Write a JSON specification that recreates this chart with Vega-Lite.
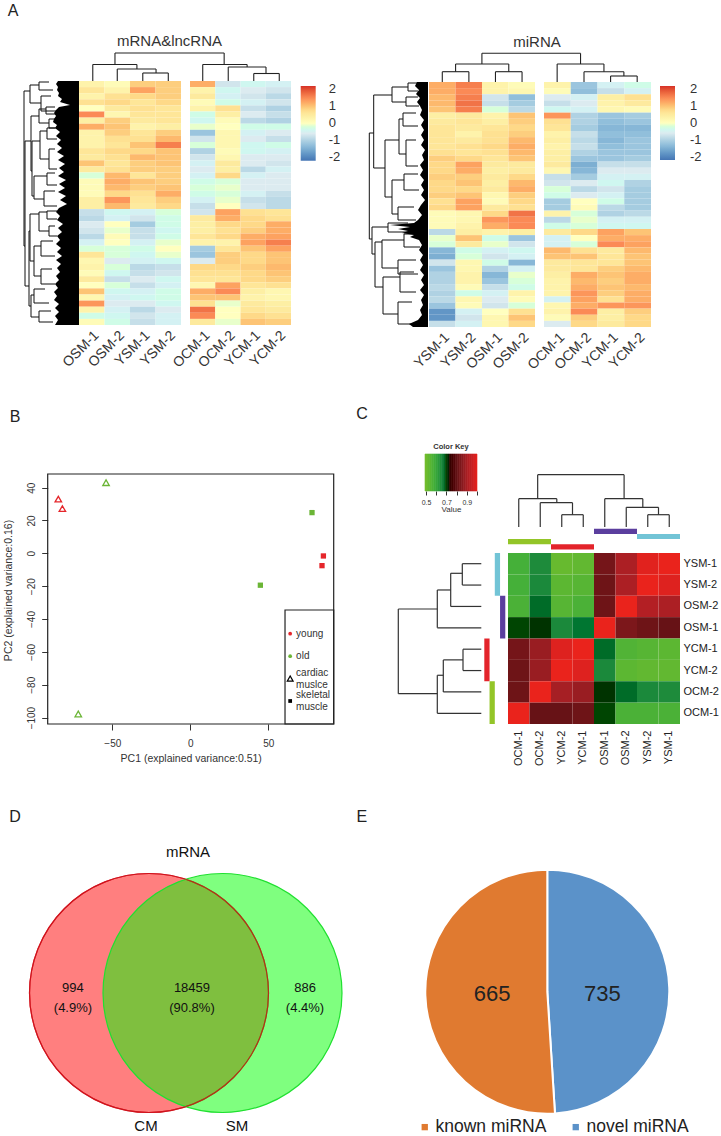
{"$schema":"https://vega.github.io/schema/vega-lite/v6.json","width":721,"height":1136,"padding":0,"autosize":{"type":"none"},"background":"white",
"config":{"font":"Liberation Sans","view":{"stroke":null},"axis":{"labelFont":"Liberation Sans","titleFont":"Liberation Sans","grid":false},"legend":{"labelFont":"Liberation Sans"}},
"resolve":{"scale":{"x":"independent","y":"independent","color":"independent","shape":"independent","stroke":"independent"},"axis":{"x":"independent","y":"independent"},"legend":{"color":"independent"}},
"datasets":{
"a1":[
{"r":0,"c":"OSM-1","v":0.3},{"r":0,"c":"OSM-2","v":0.1},{"r":0,"c":"YSM-1","v":0.9},{"r":0,"c":"YSM-2","v":0.9},{"r":0,"c":"OCM-1","v":1.2},{"r":0,"c":"OCM-2","v":-0.7},{"r":0,"c":"YCM-1","v":-0.4},{"r":0,"c":"YCM-2","v":-0.5},
{"r":1,"c":"OSM-1","v":0.6},{"r":1,"c":"OSM-2","v":0.3},{"r":1,"c":"YSM-1","v":1.3},{"r":1,"c":"YSM-2","v":0.9},{"r":1,"c":"OCM-1","v":0.3},{"r":1,"c":"OCM-2","v":-0.4},{"r":1,"c":"YCM-1","v":-0.6},{"r":1,"c":"YCM-2","v":-0.7},
{"r":2,"c":"OSM-1","v":0.3},{"r":2,"c":"OSM-2","v":0.7},{"r":2,"c":"YSM-1","v":0.8},{"r":2,"c":"YSM-2","v":0.9},{"r":2,"c":"OCM-1","v":0.5},{"r":2,"c":"OCM-2","v":-0.5},{"r":2,"c":"YCM-1","v":-0.7},{"r":2,"c":"YCM-2","v":-0.9},
{"r":3,"c":"OSM-1","v":0.7},{"r":3,"c":"OSM-2","v":0.8},{"r":3,"c":"YSM-1","v":0.6},{"r":3,"c":"YSM-2","v":0.8},{"r":3,"c":"OCM-1","v":0.1},{"r":3,"c":"OCM-2","v":-0.3},{"r":3,"c":"YCM-1","v":-0.5},{"r":3,"c":"YCM-2","v":-0.7},
{"r":4,"c":"OSM-1","v":0.0},{"r":4,"c":"OSM-2","v":0.5},{"r":4,"c":"YSM-1","v":0.7},{"r":4,"c":"YSM-2","v":0.6},{"r":4,"c":"OCM-1","v":0.3},{"r":4,"c":"OCM-2","v":0.7},{"r":4,"c":"YCM-1","v":-0.8},{"r":4,"c":"YCM-2","v":-1.0},
{"r":5,"c":"OSM-1","v":1.5},{"r":5,"c":"OSM-2","v":0.2},{"r":5,"c":"YSM-1","v":0.6},{"r":5,"c":"YSM-2","v":0.6},{"r":5,"c":"OCM-1","v":-0.3},{"r":5,"c":"OCM-2","v":0.4},{"r":5,"c":"YCM-1","v":-0.6},{"r":5,"c":"YCM-2","v":-0.8},
{"r":6,"c":"OSM-1","v":0.4},{"r":6,"c":"OSM-2","v":0.9},{"r":6,"c":"YSM-1","v":0.5},{"r":6,"c":"YSM-2","v":0.6},{"r":6,"c":"OCM-1","v":-0.4},{"r":6,"c":"OCM-2","v":0.1},{"r":6,"c":"YCM-1","v":-0.9},{"r":6,"c":"YCM-2","v":-1.0},
{"r":7,"c":"OSM-1","v":1.2},{"r":7,"c":"OSM-2","v":1.0},{"r":7,"c":"YSM-1","v":0.3},{"r":7,"c":"YSM-2","v":0.4},{"r":7,"c":"OCM-1","v":-0.1},{"r":7,"c":"OCM-2","v":0.0},{"r":7,"c":"YCM-1","v":-0.3},{"r":7,"c":"YCM-2","v":-0.3},
{"r":8,"c":"OSM-1","v":0.3},{"r":8,"c":"OSM-2","v":0.9},{"r":8,"c":"YSM-1","v":0.6},{"r":8,"c":"YSM-2","v":0.9},{"r":8,"c":"OCM-1","v":-1.2},{"r":8,"c":"OCM-2","v":0.2},{"r":8,"c":"YCM-1","v":-0.5},{"r":8,"c":"YCM-2","v":-0.6},
{"r":9,"c":"OSM-1","v":0.3},{"r":9,"c":"OSM-2","v":0.7},{"r":9,"c":"YSM-1","v":0.7},{"r":9,"c":"YSM-2","v":1.1},{"r":9,"c":"OCM-1","v":-0.7},{"r":9,"c":"OCM-2","v":0.2},{"r":9,"c":"YCM-1","v":-0.6},{"r":9,"c":"YCM-2","v":-0.8},
{"r":10,"c":"OSM-1","v":0.3},{"r":10,"c":"OSM-2","v":0.6},{"r":10,"c":"YSM-1","v":1.0},{"r":10,"c":"YSM-2","v":1.6},{"r":10,"c":"OCM-1","v":-0.2},{"r":10,"c":"OCM-2","v":0.2},{"r":10,"c":"YCM-1","v":-0.4},{"r":10,"c":"YCM-2","v":-0.3},
{"r":11,"c":"OSM-1","v":0.6},{"r":11,"c":"OSM-2","v":0.8},{"r":11,"c":"YSM-1","v":0.8},{"r":11,"c":"YSM-2","v":1.0},{"r":11,"c":"OCM-1","v":-1.0},{"r":11,"c":"OCM-2","v":0.1},{"r":11,"c":"YCM-1","v":-0.4},{"r":11,"c":"YCM-2","v":-0.5},
{"r":12,"c":"OSM-1","v":0.5},{"r":12,"c":"OSM-2","v":0.7},{"r":12,"c":"YSM-1","v":1.1},{"r":12,"c":"YSM-2","v":1.0},{"r":12,"c":"OCM-1","v":-0.7},{"r":12,"c":"OCM-2","v":0.2},{"r":12,"c":"YCM-1","v":-0.6},{"r":12,"c":"YCM-2","v":-0.6},
{"r":13,"c":"OSM-1","v":1.0},{"r":13,"c":"OSM-2","v":0.6},{"r":13,"c":"YSM-1","v":0.9},{"r":13,"c":"YSM-2","v":1.0},{"r":13,"c":"OCM-1","v":-0.5},{"r":13,"c":"OCM-2","v":0.5},{"r":13,"c":"YCM-1","v":-0.6},{"r":13,"c":"YCM-2","v":-0.7},
{"r":14,"c":"OSM-1","v":0.5},{"r":14,"c":"OSM-2","v":0.7},{"r":14,"c":"YSM-1","v":0.9},{"r":14,"c":"YSM-2","v":0.9},{"r":14,"c":"OCM-1","v":-0.6},{"r":14,"c":"OCM-2","v":0.4},{"r":14,"c":"YCM-1","v":-0.9},{"r":14,"c":"YCM-2","v":-0.5},
{"r":15,"c":"OSM-1","v":-0.2},{"r":15,"c":"OSM-2","v":1.1},{"r":15,"c":"YSM-1","v":0.6},{"r":15,"c":"YSM-2","v":0.9},{"r":15,"c":"OCM-1","v":-0.5},{"r":15,"c":"OCM-2","v":0.8},{"r":15,"c":"YCM-1","v":-0.5},{"r":15,"c":"YCM-2","v":-0.6},
{"r":16,"c":"OSM-1","v":0.1},{"r":16,"c":"OSM-2","v":1.2},{"r":16,"c":"YSM-1","v":1.0},{"r":16,"c":"YSM-2","v":0.9},{"r":16,"c":"OCM-1","v":-0.3},{"r":16,"c":"OCM-2","v":-0.2},{"r":16,"c":"YCM-1","v":-0.6},{"r":16,"c":"YCM-2","v":-0.6},
{"r":17,"c":"OSM-1","v":0.1},{"r":17,"c":"OSM-2","v":1.1},{"r":17,"c":"YSM-1","v":0.9},{"r":17,"c":"YSM-2","v":1.0},{"r":17,"c":"OCM-1","v":-0.2},{"r":17,"c":"OCM-2","v":-0.1},{"r":17,"c":"YCM-1","v":-0.6},{"r":17,"c":"YCM-2","v":-0.6},
{"r":18,"c":"OSM-1","v":0.1},{"r":18,"c":"OSM-2","v":0.8},{"r":18,"c":"YSM-1","v":0.7},{"r":18,"c":"YSM-2","v":1.2},{"r":18,"c":"OCM-1","v":-0.3},{"r":18,"c":"OCM-2","v":-0.2},{"r":18,"c":"YCM-1","v":-0.5},{"r":18,"c":"YCM-2","v":-0.8},
{"r":19,"c":"OSM-1","v":0.4},{"r":19,"c":"OSM-2","v":1.4},{"r":19,"c":"YSM-1","v":0.6},{"r":19,"c":"YSM-2","v":0.9},{"r":19,"c":"OCM-1","v":-0.5},{"r":19,"c":"OCM-2","v":-0.1},{"r":19,"c":"YCM-1","v":-0.8},{"r":19,"c":"YCM-2","v":-0.9},
{"r":20,"c":"OSM-1","v":0.4},{"r":20,"c":"OSM-2","v":1.1},{"r":20,"c":"YSM-1","v":0.5},{"r":20,"c":"YSM-2","v":0.8},{"r":20,"c":"OCM-1","v":-0.8},{"r":20,"c":"OCM-2","v":0.0},{"r":20,"c":"YCM-1","v":-0.7},{"r":20,"c":"YCM-2","v":-0.9},
{"r":21,"c":"OSM-1","v":-0.8},{"r":21,"c":"OSM-2","v":-0.4},{"r":21,"c":"YSM-1","v":-0.5},{"r":21,"c":"YSM-2","v":-0.2},{"r":21,"c":"OCM-1","v":-0.7},{"r":21,"c":"OCM-2","v":1.3},{"r":21,"c":"YCM-1","v":0.7},{"r":21,"c":"YCM-2","v":0.6},
{"r":22,"c":"OSM-1","v":-0.9},{"r":22,"c":"OSM-2","v":-0.5},{"r":22,"c":"YSM-1","v":-0.7},{"r":22,"c":"YSM-2","v":-0.3},{"r":22,"c":"OCM-1","v":0.5},{"r":22,"c":"OCM-2","v":1.2},{"r":22,"c":"YCM-1","v":0.8},{"r":22,"c":"YCM-2","v":0.7},
{"r":23,"c":"OSM-1","v":-0.6},{"r":23,"c":"OSM-2","v":0.0},{"r":23,"c":"YSM-1","v":-1.1},{"r":23,"c":"YSM-2","v":-0.3},{"r":23,"c":"OCM-1","v":0.4},{"r":23,"c":"OCM-2","v":0.8},{"r":23,"c":"YCM-1","v":0.8},{"r":23,"c":"YCM-2","v":1.2},
{"r":24,"c":"OSM-1","v":-0.7},{"r":24,"c":"OSM-2","v":-0.1},{"r":24,"c":"YSM-1","v":-0.8},{"r":24,"c":"YSM-2","v":-0.4},{"r":24,"c":"OCM-1","v":0.4},{"r":24,"c":"OCM-2","v":0.7},{"r":24,"c":"YCM-1","v":0.9},{"r":24,"c":"YCM-2","v":1.2},
{"r":25,"c":"OSM-1","v":-0.9},{"r":25,"c":"OSM-2","v":0.1},{"r":25,"c":"YSM-1","v":-0.8},{"r":25,"c":"YSM-2","v":-0.3},{"r":25,"c":"OCM-1","v":0.6},{"r":25,"c":"OCM-2","v":0.8},{"r":25,"c":"YCM-1","v":1.2},{"r":25,"c":"YCM-2","v":1.3},
{"r":26,"c":"OSM-1","v":-0.5},{"r":26,"c":"OSM-2","v":0.0},{"r":26,"c":"YSM-1","v":-0.5},{"r":26,"c":"YSM-2","v":-0.1},{"r":26,"c":"OCM-1","v":0.3},{"r":26,"c":"OCM-2","v":0.3},{"r":26,"c":"YCM-1","v":1.3},{"r":26,"c":"YCM-2","v":1.6},
{"r":27,"c":"OSM-1","v":-0.2},{"r":27,"c":"OSM-2","v":-0.2},{"r":27,"c":"YSM-1","v":-0.3},{"r":27,"c":"YSM-2","v":0.0},{"r":27,"c":"OCM-1","v":-1.1},{"r":27,"c":"OCM-2","v":0.6},{"r":27,"c":"YCM-1","v":1.0},{"r":27,"c":"YCM-2","v":1.3},
{"r":28,"c":"OSM-1","v":0.6},{"r":28,"c":"OSM-2","v":-0.2},{"r":28,"c":"YSM-1","v":-0.4},{"r":28,"c":"YSM-2","v":-0.1},{"r":28,"c":"OCM-1","v":-1.2},{"r":28,"c":"OCM-2","v":0.9},{"r":28,"c":"YCM-1","v":0.8},{"r":28,"c":"YCM-2","v":1.0},
{"r":29,"c":"OSM-1","v":0.2},{"r":29,"c":"OSM-2","v":-0.6},{"r":29,"c":"YSM-1","v":-0.5},{"r":29,"c":"YSM-2","v":-0.4},{"r":29,"c":"OCM-1","v":-0.6},{"r":29,"c":"OCM-2","v":0.9},{"r":29,"c":"YCM-1","v":0.8},{"r":29,"c":"YCM-2","v":1.0},
{"r":30,"c":"OSM-1","v":0.3},{"r":30,"c":"OSM-2","v":-0.2},{"r":30,"c":"YSM-1","v":-0.9},{"r":30,"c":"YSM-2","v":-0.8},{"r":30,"c":"OCM-1","v":0.8},{"r":30,"c":"OCM-2","v":0.8},{"r":30,"c":"YCM-1","v":0.9},{"r":30,"c":"YCM-2","v":1.1},
{"r":31,"c":"OSM-1","v":0.1},{"r":31,"c":"OSM-2","v":-0.4},{"r":31,"c":"YSM-1","v":-0.8},{"r":31,"c":"YSM-2","v":-0.7},{"r":31,"c":"OCM-1","v":0.7},{"r":31,"c":"OCM-2","v":0.7},{"r":31,"c":"YCM-1","v":0.8},{"r":31,"c":"YCM-2","v":1.0},
{"r":32,"c":"OSM-1","v":0.5},{"r":32,"c":"OSM-2","v":-0.8},{"r":32,"c":"YSM-1","v":-0.6},{"r":32,"c":"YSM-2","v":-0.4},{"r":32,"c":"OCM-1","v":0.6},{"r":32,"c":"OCM-2","v":0.6},{"r":32,"c":"YCM-1","v":0.8},{"r":32,"c":"YCM-2","v":0.9},
{"r":33,"c":"OSM-1","v":0.0},{"r":33,"c":"OSM-2","v":-0.2},{"r":33,"c":"YSM-1","v":-0.8},{"r":33,"c":"YSM-2","v":-0.5},{"r":33,"c":"OCM-1","v":0.2},{"r":33,"c":"OCM-2","v":1.3},{"r":33,"c":"YCM-1","v":0.6},{"r":33,"c":"YCM-2","v":0.7},
{"r":34,"c":"OSM-1","v":1.0},{"r":34,"c":"OSM-2","v":-0.4},{"r":34,"c":"YSM-1","v":-0.5},{"r":34,"c":"YSM-2","v":-0.3},{"r":34,"c":"OCM-1","v":1.2},{"r":34,"c":"OCM-2","v":1.5},{"r":34,"c":"YCM-1","v":0.4},{"r":34,"c":"YCM-2","v":0.2},
{"r":35,"c":"OSM-1","v":0.2},{"r":35,"c":"OSM-2","v":-0.5},{"r":35,"c":"YSM-1","v":-0.4},{"r":35,"c":"YSM-2","v":-0.3},{"r":35,"c":"OCM-1","v":1.0},{"r":35,"c":"OCM-2","v":1.0},{"r":35,"c":"YCM-1","v":0.3},{"r":35,"c":"YCM-2","v":0.2},
{"r":36,"c":"OSM-1","v":1.4},{"r":36,"c":"OSM-2","v":-0.6},{"r":36,"c":"YSM-1","v":-0.6},{"r":36,"c":"YSM-2","v":-0.4},{"r":36,"c":"OCM-1","v":0.7},{"r":36,"c":"OCM-2","v":-0.1},{"r":36,"c":"YCM-1","v":0.5},{"r":36,"c":"YCM-2","v":0.4},
{"r":37,"c":"OSM-1","v":0.3},{"r":37,"c":"OSM-2","v":-0.5},{"r":37,"c":"YSM-1","v":-0.9},{"r":37,"c":"YSM-2","v":-0.6},{"r":37,"c":"OCM-1","v":1.7},{"r":37,"c":"OCM-2","v":0.0},{"r":37,"c":"YCM-1","v":0.6},{"r":37,"c":"YCM-2","v":0.5},
{"r":38,"c":"OSM-1","v":-0.3},{"r":38,"c":"OSM-2","v":-0.4},{"r":38,"c":"YSM-1","v":-0.7},{"r":38,"c":"YSM-2","v":-0.5},{"r":38,"c":"OCM-1","v":1.5},{"r":38,"c":"OCM-2","v":0.0},{"r":38,"c":"YCM-1","v":0.8},{"r":38,"c":"YCM-2","v":0.7},
{"r":39,"c":"OSM-1","v":0.1},{"r":39,"c":"OSM-2","v":-0.3},{"r":39,"c":"YSM-1","v":-0.8},{"r":39,"c":"YSM-2","v":-0.5},{"r":39,"c":"OCM-1","v":0.5},{"r":39,"c":"OCM-2","v":-0.1},{"r":39,"c":"YCM-1","v":1.0},{"r":39,"c":"YCM-2","v":0.9}
],
"a2":[
{"r":0,"c":"YSM-1","v":1.2},{"r":0,"c":"YSM-2","v":1.6},{"r":0,"c":"OSM-1","v":0.3},{"r":0,"c":"OSM-2","v":0.1},{"r":0,"c":"OCM-1","v":0.3},{"r":0,"c":"OCM-2","v":-1.2},{"r":0,"c":"YCM-1","v":-0.5},{"r":0,"c":"YCM-2","v":-0.3},
{"r":1,"c":"YSM-1","v":1.2},{"r":1,"c":"YSM-2","v":1.5},{"r":1,"c":"OSM-1","v":0.3},{"r":1,"c":"OSM-2","v":0.2},{"r":1,"c":"OCM-1","v":0.1},{"r":1,"c":"OCM-2","v":-1.3},{"r":1,"c":"YCM-1","v":-0.8},{"r":1,"c":"YCM-2","v":-0.5},
{"r":2,"c":"YSM-1","v":1.1},{"r":2,"c":"YSM-2","v":1.6},{"r":2,"c":"OSM-1","v":-0.7},{"r":2,"c":"OSM-2","v":-1.3},{"r":2,"c":"OCM-1","v":-0.6},{"r":2,"c":"OCM-2","v":-0.5},{"r":2,"c":"YCM-1","v":0.4},{"r":2,"c":"YCM-2","v":0.7},
{"r":3,"c":"YSM-1","v":1.1},{"r":3,"c":"YSM-2","v":1.7},{"r":3,"c":"OSM-1","v":-0.8},{"r":3,"c":"OSM-2","v":-1.1},{"r":3,"c":"OCM-1","v":-0.8},{"r":3,"c":"OCM-2","v":-0.6},{"r":3,"c":"YCM-1","v":0.3},{"r":3,"c":"YCM-2","v":0.5},
{"r":4,"c":"YSM-1","v":1.0},{"r":4,"c":"YSM-2","v":1.6},{"r":4,"c":"OSM-1","v":-0.2},{"r":4,"c":"OSM-2","v":-0.9},{"r":4,"c":"OCM-1","v":-0.4},{"r":4,"c":"OCM-2","v":-0.5},{"r":4,"c":"YCM-1","v":0.2},{"r":4,"c":"YCM-2","v":0.1},
{"r":5,"c":"YSM-1","v":0.4},{"r":5,"c":"YSM-2","v":0.5},{"r":5,"c":"OSM-1","v":0.3},{"r":5,"c":"OSM-2","v":1.0},{"r":5,"c":"OCM-1","v":1.4},{"r":5,"c":"OCM-2","v":-1.0},{"r":5,"c":"YCM-1","v":-1.2},{"r":5,"c":"YCM-2","v":-1.1},
{"r":6,"c":"YSM-1","v":0.5},{"r":6,"c":"YSM-2","v":0.6},{"r":6,"c":"OSM-1","v":0.4},{"r":6,"c":"OSM-2","v":0.9},{"r":6,"c":"OCM-1","v":0.7},{"r":6,"c":"OCM-2","v":-1.0},{"r":6,"c":"YCM-1","v":-1.3},{"r":6,"c":"YCM-2","v":-1.2},
{"r":7,"c":"YSM-1","v":0.6},{"r":7,"c":"YSM-2","v":0.5},{"r":7,"c":"OSM-1","v":0.6},{"r":7,"c":"OSM-2","v":0.8},{"r":7,"c":"OCM-1","v":0.6},{"r":7,"c":"OCM-2","v":-1.1},{"r":7,"c":"YCM-1","v":-1.4},{"r":7,"c":"YCM-2","v":-1.4},
{"r":8,"c":"YSM-1","v":0.6},{"r":8,"c":"YSM-2","v":0.3},{"r":8,"c":"OSM-1","v":0.7},{"r":8,"c":"OSM-2","v":0.9},{"r":8,"c":"OCM-1","v":0.3},{"r":8,"c":"OCM-2","v":-0.8},{"r":8,"c":"YCM-1","v":-1.3},{"r":8,"c":"YCM-2","v":-1.3},
{"r":9,"c":"YSM-1","v":0.6},{"r":9,"c":"YSM-2","v":0.5},{"r":9,"c":"OSM-1","v":0.7},{"r":9,"c":"OSM-2","v":1.1},{"r":9,"c":"OCM-1","v":0.4},{"r":9,"c":"OCM-2","v":-0.9},{"r":9,"c":"YCM-1","v":-1.4},{"r":9,"c":"YCM-2","v":-1.2},
{"r":10,"c":"YSM-1","v":0.6},{"r":10,"c":"YSM-2","v":0.7},{"r":10,"c":"OSM-1","v":0.8},{"r":10,"c":"OSM-2","v":1.2},{"r":10,"c":"OCM-1","v":0.3},{"r":10,"c":"OCM-2","v":-0.8},{"r":10,"c":"YCM-1","v":-1.3},{"r":10,"c":"YCM-2","v":-1.2},
{"r":11,"c":"YSM-1","v":0.7},{"r":11,"c":"YSM-2","v":0.6},{"r":11,"c":"OSM-1","v":0.7},{"r":11,"c":"OSM-2","v":1.1},{"r":11,"c":"OCM-1","v":0.4},{"r":11,"c":"OCM-2","v":-1.0},{"r":11,"c":"YCM-1","v":-1.2},{"r":11,"c":"YCM-2","v":-1.2},
{"r":12,"c":"YSM-1","v":0.9},{"r":12,"c":"YSM-2","v":0.8},{"r":12,"c":"OSM-1","v":0.6},{"r":12,"c":"OSM-2","v":1.0},{"r":12,"c":"OCM-1","v":0.4},{"r":12,"c":"OCM-2","v":-1.2},{"r":12,"c":"YCM-1","v":-1.2},{"r":12,"c":"YCM-2","v":-1.1},
{"r":13,"c":"YSM-1","v":0.8},{"r":13,"c":"YSM-2","v":1.3},{"r":13,"c":"OSM-1","v":0.5},{"r":13,"c":"OSM-2","v":0.5},{"r":13,"c":"OCM-1","v":0.5},{"r":13,"c":"OCM-2","v":-1.5},{"r":13,"c":"YCM-1","v":-0.8},{"r":13,"c":"YCM-2","v":-0.8},
{"r":14,"c":"YSM-1","v":0.8},{"r":14,"c":"YSM-2","v":1.2},{"r":14,"c":"OSM-1","v":0.4},{"r":14,"c":"OSM-2","v":0.5},{"r":14,"c":"OCM-1","v":0.2},{"r":14,"c":"OCM-2","v":-1.4},{"r":14,"c":"YCM-1","v":-0.6},{"r":14,"c":"YCM-2","v":-0.6},
{"r":15,"c":"YSM-1","v":0.9},{"r":15,"c":"YSM-2","v":0.9},{"r":15,"c":"OSM-1","v":0.5},{"r":15,"c":"OSM-2","v":0.8},{"r":15,"c":"OCM-1","v":-0.8},{"r":15,"c":"OCM-2","v":-1.1},{"r":15,"c":"YCM-1","v":-0.5},{"r":15,"c":"YCM-2","v":-0.5},
{"r":16,"c":"YSM-1","v":0.8},{"r":16,"c":"YSM-2","v":1.0},{"r":16,"c":"OSM-1","v":0.4},{"r":16,"c":"OSM-2","v":1.1},{"r":16,"c":"OCM-1","v":-0.7},{"r":16,"c":"OCM-2","v":-0.6},{"r":16,"c":"YCM-1","v":-0.4},{"r":16,"c":"YCM-2","v":-1.0},
{"r":17,"c":"YSM-1","v":0.8},{"r":17,"c":"YSM-2","v":0.8},{"r":17,"c":"OSM-1","v":0.5},{"r":17,"c":"OSM-2","v":1.2},{"r":17,"c":"OCM-1","v":-0.2},{"r":17,"c":"OCM-2","v":-0.9},{"r":17,"c":"YCM-1","v":-0.7},{"r":17,"c":"YCM-2","v":-1.1},
{"r":18,"c":"YSM-1","v":0.9},{"r":18,"c":"YSM-2","v":1.0},{"r":18,"c":"OSM-1","v":0.2},{"r":18,"c":"OSM-2","v":0.9},{"r":18,"c":"OCM-1","v":-0.3},{"r":18,"c":"OCM-2","v":-0.6},{"r":18,"c":"YCM-1","v":-0.5},{"r":18,"c":"YCM-2","v":-1.1},
{"r":19,"c":"YSM-1","v":0.7},{"r":19,"c":"YSM-2","v":1.3},{"r":19,"c":"OSM-1","v":0.1},{"r":19,"c":"OSM-2","v":0.8},{"r":19,"c":"OCM-1","v":-1.1},{"r":19,"c":"OCM-2","v":0.0},{"r":19,"c":"YCM-1","v":-0.3},{"r":19,"c":"YCM-2","v":-1.1},
{"r":20,"c":"YSM-1","v":0.8},{"r":20,"c":"YSM-2","v":1.3},{"r":20,"c":"OSM-1","v":0.5},{"r":20,"c":"OSM-2","v":0.7},{"r":20,"c":"OCM-1","v":-1.1},{"r":20,"c":"OCM-2","v":0.1},{"r":20,"c":"YCM-1","v":-0.9},{"r":20,"c":"YCM-2","v":-1.1},
{"r":21,"c":"YSM-1","v":0.1},{"r":21,"c":"YSM-2","v":0.2},{"r":21,"c":"OSM-1","v":0.8},{"r":21,"c":"OSM-2","v":1.7},{"r":21,"c":"OCM-1","v":0.3},{"r":21,"c":"OCM-2","v":-0.2},{"r":21,"c":"YCM-1","v":-1.0},{"r":21,"c":"YCM-2","v":-0.9},
{"r":22,"c":"YSM-1","v":0.1},{"r":22,"c":"YSM-2","v":0.2},{"r":22,"c":"OSM-1","v":1.4},{"r":22,"c":"OSM-2","v":1.5},{"r":22,"c":"OCM-1","v":-0.9},{"r":22,"c":"OCM-2","v":-0.1},{"r":22,"c":"YCM-1","v":-0.5},{"r":22,"c":"YCM-2","v":-0.5},
{"r":23,"c":"YSM-1","v":0.1},{"r":23,"c":"YSM-2","v":0.3},{"r":23,"c":"OSM-1","v":1.2},{"r":23,"c":"OSM-2","v":1.5},{"r":23,"c":"OCM-1","v":-0.3},{"r":23,"c":"OCM-2","v":-0.2},{"r":23,"c":"YCM-1","v":-0.4},{"r":23,"c":"YCM-2","v":-0.4},
{"r":24,"c":"YSM-1","v":-0.9},{"r":24,"c":"YSM-2","v":0.4},{"r":24,"c":"OSM-1","v":0.3},{"r":24,"c":"OSM-2","v":0.4},{"r":24,"c":"OCM-1","v":0.5},{"r":24,"c":"OCM-2","v":0.8},{"r":24,"c":"YCM-1","v":1.3},{"r":24,"c":"YCM-2","v":1.0},
{"r":25,"c":"YSM-1","v":-0.1},{"r":25,"c":"YSM-2","v":1.0},{"r":25,"c":"OSM-1","v":-0.3},{"r":25,"c":"OSM-2","v":-1.2},{"r":25,"c":"OCM-1","v":-0.5},{"r":25,"c":"OCM-2","v":0.0},{"r":25,"c":"YCM-1","v":1.2},{"r":25,"c":"YCM-2","v":1.2},
{"r":26,"c":"YSM-1","v":-0.2},{"r":26,"c":"YSM-2","v":0.5},{"r":26,"c":"OSM-1","v":-0.1},{"r":26,"c":"OSM-2","v":-0.7},{"r":26,"c":"OCM-1","v":-0.5},{"r":26,"c":"OCM-2","v":-0.2},{"r":26,"c":"YCM-1","v":1.5},{"r":26,"c":"YCM-2","v":1.3},
{"r":27,"c":"YSM-1","v":-1.4},{"r":27,"c":"YSM-2","v":-0.3},{"r":27,"c":"OSM-1","v":-0.5},{"r":27,"c":"OSM-2","v":-0.4},{"r":27,"c":"OCM-1","v":1.1},{"r":27,"c":"OCM-2","v":0.7},{"r":27,"c":"YCM-1","v":0.5},{"r":27,"c":"YCM-2","v":1.1},
{"r":28,"c":"YSM-1","v":-1.5},{"r":28,"c":"YSM-2","v":-0.2},{"r":28,"c":"OSM-1","v":-0.7},{"r":28,"c":"OSM-2","v":-0.5},{"r":28,"c":"OCM-1","v":1.0},{"r":28,"c":"OCM-2","v":1.0},{"r":28,"c":"YCM-1","v":0.6},{"r":28,"c":"YCM-2","v":1.0},
{"r":29,"c":"YSM-1","v":-0.7},{"r":29,"c":"YSM-2","v":0.2},{"r":29,"c":"OSM-1","v":-0.3},{"r":29,"c":"OSM-2","v":-1.4},{"r":29,"c":"OCM-1","v":0.5},{"r":29,"c":"OCM-2","v":0.6},{"r":29,"c":"YCM-1","v":0.6},{"r":29,"c":"YCM-2","v":1.0},
{"r":30,"c":"YSM-1","v":-1.2},{"r":30,"c":"YSM-2","v":0.2},{"r":30,"c":"OSM-1","v":-1.0},{"r":30,"c":"OSM-2","v":-0.5},{"r":30,"c":"OCM-1","v":0.5},{"r":30,"c":"OCM-2","v":0.6},{"r":30,"c":"YCM-1","v":0.9},{"r":30,"c":"YCM-2","v":1.1},
{"r":31,"c":"YSM-1","v":-1.0},{"r":31,"c":"YSM-2","v":0.3},{"r":31,"c":"OSM-1","v":-1.4},{"r":31,"c":"OSM-2","v":-0.1},{"r":31,"c":"OCM-1","v":0.4},{"r":31,"c":"OCM-2","v":1.2},{"r":31,"c":"YCM-1","v":1.0},{"r":31,"c":"YCM-2","v":1.2},
{"r":32,"c":"YSM-1","v":-1.0},{"r":32,"c":"YSM-2","v":0.3},{"r":32,"c":"OSM-1","v":-1.2},{"r":32,"c":"OSM-2","v":-0.2},{"r":32,"c":"OCM-1","v":0.3},{"r":32,"c":"OCM-2","v":1.1},{"r":32,"c":"YCM-1","v":0.9},{"r":32,"c":"YCM-2","v":1.2},
{"r":33,"c":"YSM-1","v":-0.9},{"r":33,"c":"YSM-2","v":0.1},{"r":33,"c":"OSM-1","v":-0.8},{"r":33,"c":"OSM-2","v":-0.3},{"r":33,"c":"OCM-1","v":0.3},{"r":33,"c":"OCM-2","v":1.2},{"r":33,"c":"YCM-1","v":1.0},{"r":33,"c":"YCM-2","v":1.1},
{"r":34,"c":"YSM-1","v":-1.0},{"r":34,"c":"YSM-2","v":-0.3},{"r":34,"c":"OSM-1","v":-0.5},{"r":34,"c":"OSM-2","v":0.3},{"r":34,"c":"OCM-1","v":0.3},{"r":34,"c":"OCM-2","v":1.4},{"r":34,"c":"YCM-1","v":0.9},{"r":34,"c":"YCM-2","v":1.2},
{"r":35,"c":"YSM-1","v":-0.9},{"r":35,"c":"YSM-2","v":0.2},{"r":35,"c":"OSM-1","v":-0.6},{"r":35,"c":"OSM-2","v":0.1},{"r":35,"c":"OCM-1","v":-0.5},{"r":35,"c":"OCM-2","v":1.3},{"r":35,"c":"YCM-1","v":0.7},{"r":35,"c":"YCM-2","v":1.2},
{"r":36,"c":"YSM-1","v":-1.2},{"r":36,"c":"YSM-2","v":0.1},{"r":36,"c":"OSM-1","v":-0.7},{"r":36,"c":"OSM-2","v":-0.2},{"r":36,"c":"OCM-1","v":0.2},{"r":36,"c":"OCM-2","v":1.2},{"r":36,"c":"YCM-1","v":1.4},{"r":36,"c":"YCM-2","v":1.4},
{"r":37,"c":"YSM-1","v":-1.8},{"r":37,"c":"YSM-2","v":-0.5},{"r":37,"c":"OSM-1","v":0.0},{"r":37,"c":"OSM-2","v":0.7},{"r":37,"c":"OCM-1","v":0.3},{"r":37,"c":"OCM-2","v":1.5},{"r":37,"c":"YCM-1","v":0.4},{"r":37,"c":"YCM-2","v":0.9},
{"r":38,"c":"YSM-1","v":-1.8},{"r":38,"c":"YSM-2","v":-0.7},{"r":38,"c":"OSM-1","v":0.2},{"r":38,"c":"OSM-2","v":1.0},{"r":38,"c":"OCM-1","v":0.1},{"r":38,"c":"OCM-2","v":0.9},{"r":38,"c":"YCM-1","v":0.4},{"r":38,"c":"YCM-2","v":0.8},
{"r":39,"c":"YSM-1","v":-0.8},{"r":39,"c":"YSM-2","v":-0.5},{"r":39,"c":"OSM-1","v":0.2},{"r":39,"c":"OSM-2","v":0.8},{"r":39,"c":"OCM-1","v":-0.6},{"r":39,"c":"OCM-2","v":0.8},{"r":39,"c":"YCM-1","v":0.5},{"r":39,"c":"YCM-2","v":0.8}
]},
"layer":[
{"data":{"name":"a1"},"transform":[{"filter":{"field":"c","oneOf":["OSM-1","OSM-2","YSM-1","YSM-2"]}}],"mark":"rect","encoding":{"x":{"field":"c","type":"nominal","scale":{"type":"band","domain":["OSM-1","OSM-2","YSM-1","YSM-2"],"range":[79,181],"padding":0},"title":null,"axis":{"orient":"bottom","offset":-811,"labelAngle":-45,"labelAlign":"right","labelBaseline":"top","labelFontSize":14,"labelColor":"#333","labelPadding":3,"labelOffset":0,"domain":false,"ticks":false,"title":null}},"y":{"field":"r","type":"ordinal","scale":{"type":"band","range":[81,325],"padding":0},"axis":null},"color":{"field":"v","type":"quantitative","scale":{"domain":[-2.2,-1.3,-0.6,0,0.73,1.47,2.2],"range":["#4575B4","#91BFDB","#DCEBF0","#FFFFBF","#FEE090","#FC8D59","#D73027"]},"legend":{"orient":"none","legendX":300.7,"legendY":86,"title":null,"direction":"vertical","gradientLength":74.7,"gradientThickness":15,"values":[-2,-1,0,1,2],"labelExpr":"datum.value<0?'-'+abs(datum.value):''+datum.value","labelFontSize":13,"labelColor":"#333","labelAlign":"right","labelOffset":13,"gradientStrokeWidth":0,"padding":0}}}},
{"data":{"name":"a1"},"transform":[{"filter":{"field":"c","oneOf":["OCM-1","OCM-2","YCM-1","YCM-2"]}}],"mark":"rect","encoding":{"x":{"field":"c","type":"nominal","scale":{"type":"band","domain":["OCM-1","OCM-2","YCM-1","YCM-2"],"range":[190,291],"padding":0},"axis":{"orient":"bottom","offset":-811,"labelAngle":-45,"labelAlign":"right","labelBaseline":"top","labelFontSize":14,"labelColor":"#333","labelPadding":3,"labelOffset":0,"domain":false,"ticks":false,"title":null}},"y":{"field":"r","type":"ordinal","scale":{"type":"band","range":[81,325],"padding":0},"axis":null},"color":{"field":"v","type":"quantitative","scale":{"domain":[-2.2,-1.3,-0.6,0,0.73,1.47,2.2],"range":["#4575B4","#91BFDB","#DCEBF0","#FFFFBF","#FEE090","#FC8D59","#D73027"]},"legend":null}}},
{"data":{"name":"a2"},"transform":[{"filter":{"field":"c","oneOf":["YSM-1","YSM-2","OSM-1","OSM-2"]}}],"mark":"rect","encoding":{"x":{"field":"c","type":"nominal","scale":{"type":"band","domain":["YSM-1","YSM-2","OSM-1","OSM-2"],"range":[429,535],"padding":0},"axis":{"orient":"bottom","offset":-809,"labelAngle":-45,"labelAlign":"right","labelBaseline":"top","labelFontSize":14,"labelColor":"#333","labelPadding":3,"labelOffset":0,"domain":false,"ticks":false,"title":null}},"y":{"field":"r","type":"ordinal","scale":{"type":"band","range":[82,327],"padding":0},"axis":null},"color":{"field":"v","type":"quantitative","scale":{"domain":[-2.2,-1.3,-0.6,0,0.73,1.47,2.2],"range":["#4575B4","#91BFDB","#DCEBF0","#FFFFBF","#FEE090","#FC8D59","#D73027"]},"legend":{"orient":"none","legendX":660,"legendY":86,"title":null,"direction":"vertical","gradientLength":74,"gradientThickness":15,"values":[-2,-1,0,1,2],"labelExpr":"datum.value<0?'-'+abs(datum.value):''+datum.value","labelFontSize":13,"labelColor":"#333","labelAlign":"right","labelOffset":15,"gradientStrokeWidth":0,"padding":0}}}},
{"data":{"name":"a2"},"transform":[{"filter":{"field":"c","oneOf":["OCM-1","OCM-2","YCM-1","YCM-2"]}}],"mark":"rect","encoding":{"x":{"field":"c","type":"nominal","scale":{"type":"band","domain":["OCM-1","OCM-2","YCM-1","YCM-2"],"range":[544,651],"padding":0},"axis":{"orient":"bottom","offset":-809,"labelAngle":-45,"labelAlign":"right","labelBaseline":"top","labelFontSize":14,"labelColor":"#333","labelPadding":3,"labelOffset":0,"domain":false,"ticks":false,"title":null}},"y":{"field":"r","type":"ordinal","scale":{"type":"band","range":[82,327],"padding":0},"axis":null},"color":{"field":"v","type":"quantitative","scale":{"domain":[-2.2,-1.3,-0.6,0,0.73,1.47,2.2],"range":["#4575B4","#91BFDB","#DCEBF0","#FFFFBF","#FEE090","#FC8D59","#D73027"]},"legend":null}}},

{"data":{"values":[{"h":8,"p1":2.5,"p2":3.5,"h1":0,"h2":0},{"h":12,"p1":1.5,"p2":3.02,"h1":0,"h2":8},{"h":16.5,"p1":0.54,"p2":2.27,"h1":0,"h2":12},{"h":7.5,"p1":6.85,"p2":7.85,"h1":0,"h2":0},{"h":14,"p1":5.85,"p2":7.33,"h1":0,"h2":7.5},{"h":16.5,"p1":4.85,"p2":6.59,"h1":0,"h2":14},{"h":28,"p1":1.41,"p2":5.69,"h1":16.5,"h2":16.5}]},
"encoding":{"y":{"field":"h","type":"quantitative","scale":{"domain":[0,28],"range":[81,53]},"axis":null}},
"layer":[
{"mark":{"type":"rule","color":"#222","strokeWidth":1.1},"encoding":{"x":{"field":"p1","type":"quantitative","scale":{"domain":[0,8.31],"range":[79,291]},"axis":null},"x2":{"field":"p2"}}},
{"mark":{"type":"rule","color":"#222","strokeWidth":1.1},"encoding":{"x":{"field":"p1","type":"quantitative","scale":{"domain":[0,8.31],"range":[79,291]},"axis":null},"y2":{"field":"h1"}}},
{"mark":{"type":"rule","color":"#222","strokeWidth":1.1},"encoding":{"x":{"field":"p2","type":"quantitative","scale":{"domain":[0,8.31],"range":[79,291]},"axis":null},"y2":{"field":"h2"}}}]},

{"data":{"values":[{"h":10.3,"p1":0.5,"p2":1.5,"h1":0,"h2":0},{"h":10.3,"p1":2.5,"p2":3.5,"h1":0,"h2":0},{"h":18,"p1":1,"p2":3,"h1":10.3,"h2":10.3},{"h":6,"p1":6.83,"p2":7.83,"h1":0,"h2":0},{"h":10.3,"p1":5.83,"p2":7.33,"h1":0,"h2":6},{"h":18,"p1":4.82,"p2":6.58,"h1":0,"h2":10.3},{"h":28.7,"p1":1.99,"p2":5.7,"h1":18,"h2":18}]},
"encoding":{"y":{"field":"h","type":"quantitative","scale":{"domain":[0,28.7],"range":[82,53.3]},"axis":null}},
"layer":[
{"mark":{"type":"rule","color":"#222","strokeWidth":1.1},"encoding":{"x":{"field":"p1","type":"quantitative","scale":{"domain":[0,8.35],"range":[429,651]},"axis":null},"x2":{"field":"p2"}}},
{"mark":{"type":"rule","color":"#222","strokeWidth":1.1},"encoding":{"x":{"field":"p1","type":"quantitative","scale":{"domain":[0,8.35],"range":[429,651]},"axis":null},"y2":{"field":"h1"}}},
{"mark":{"type":"rule","color":"#222","strokeWidth":1.1},"encoding":{"x":{"field":"p2","type":"quantitative","scale":{"domain":[0,8.35],"range":[429,651]},"axis":null},"y2":{"field":"h2"}}}]},

{"data":{"values":[{"h":12.3,"p1":2.5,"p2":3.5,"h1":0,"h2":0},{"h":24.3,"p1":1.5,"p2":3,"h1":0,"h2":12.3},{"h":28.3,"p1":0.5,"p2":2.27,"h1":0,"h2":24.3},{"h":12.3,"p1":6.5,"p2":7.5,"h1":0,"h2":0},{"h":19.7,"p1":5.5,"p2":7,"h1":0,"h2":12.3},{"h":28.3,"p1":4.5,"p2":6.27,"h1":0,"h2":19.7},{"h":52.3,"p1":1.38,"p2":5.4,"h1":28.3,"h2":28.3}]},
"encoding":{"y":{"field":"h","type":"quantitative","scale":{"domain":[0,52.3],"range":[527,474.7]},"axis":null}},
"layer":[
{"mark":{"type":"rule","color":"#333","strokeWidth":1.2},"encoding":{"x":{"field":"p1","type":"quantitative","scale":{"domain":[0,8],"range":[508,680]},"axis":null},"x2":{"field":"p2"}}},
{"mark":{"type":"rule","color":"#333","strokeWidth":1.2},"encoding":{"x":{"field":"p1","type":"quantitative","scale":{"domain":[0,8],"range":[508,680]},"axis":null},"y2":{"field":"h1"}}},
{"mark":{"type":"rule","color":"#333","strokeWidth":1.2},"encoding":{"x":{"field":"p2","type":"quantitative","scale":{"domain":[0,8],"range":[508,680]},"axis":null},"y2":{"field":"h2"}}}]},

{"data":{"values":[{"h":19,"p1":0.5,"p2":1.5,"h1":0,"h2":0},{"h":30.6,"p1":0.95,"p2":2.5,"h1":19,"h2":0},{"h":44,"p1":1.73,"p2":3.5,"h1":30.6,"h2":0},{"h":18.3,"p1":4.5,"p2":5.5,"h1":0,"h2":0},{"h":38,"p1":5,"p2":6.5,"h1":18.3,"h2":0},{"h":44,"p1":5.72,"p2":7.5,"h1":38,"h2":0},{"h":83,"p1":2.62,"p2":6.58,"h1":44,"h2":44}]},
"encoding":{"x":{"field":"h","type":"quantitative","scale":{"domain":[0,83],"range":[481.3,398.3]},"axis":null}},
"layer":[
{"mark":{"type":"rule","color":"#333","strokeWidth":1.2},"encoding":{"y":{"field":"p1","type":"quantitative","scale":{"domain":[0,8],"range":[553,724]},"axis":null},"y2":{"field":"p2"}}},
{"mark":{"type":"rule","color":"#333","strokeWidth":1.2},"encoding":{"y":{"field":"p1","type":"quantitative","scale":{"domain":[0,8],"range":[553,724]},"axis":null},"x2":{"field":"h1"}}},
{"mark":{"type":"rule","color":"#333","strokeWidth":1.2},"encoding":{"y":{"field":"p2","type":"quantitative","scale":{"domain":[0,8],"range":[553,724]},"axis":null},"x2":{"field":"h2"}}}]},

{"data":{"values":[{"h":55,"p1":10,"p2":165,"h1":49,"h2":54},{"h":49,"p1":4,"p2":22,"h1":40,"h2":38},{"h":40,"p1":1,"p2":9,"h1":30,"h2":26},{"h":38,"p1":15,"p2":30,"h1":28,"h2":20},{"h":54,"p1":60,"p2":205,"h1":48,"h2":50},{"h":48,"p1":35,"p2":90,"h1":40,"h2":47},{"h":40,"p1":28,"p2":42,"h1":33,"h2":30},{"h":33,"p1":26,"p2":33,"h1":24,"h2":22},{"h":30,"p1":38,"p2":47,"h1":22,"h2":20},{"h":47,"p1":60,"p2":115,"h1":39,"h2":45},{"h":39,"p1":50,"p2":78,"h1":32,"h2":30},{"h":32,"p1":47,"p2":58,"h1":24,"h2":22},{"h":30,"p1":68,"p2":88,"h1":24,"h2":22},{"h":45,"p1":95,"p2":118,"h1":32,"h2":35},{"h":32,"p1":92,"p2":104,"h1":24,"h2":22},{"h":35,"p1":110,"p2":125,"h1":24,"h2":22},{"h":50,"p1":150,"p2":225,"h1":49,"h2":48},{"h":49,"p1":133,"p2":180,"h1":40,"h2":45},{"h":40,"p1":131,"p2":150,"h1":32,"h2":30},{"h":32,"p1":130,"p2":138,"h1":22,"h2":22},{"h":30,"p1":145,"p2":155,"h1":24,"h2":22},{"h":45,"p1":165,"p2":195,"h1":38,"h2":38},{"h":38,"p1":160,"p2":175,"h1":26,"h2":24},{"h":38,"p1":188,"p2":203,"h1":27,"h2":24},{"h":48,"p1":214,"p2":236,"h1":45,"h2":40},{"h":45,"p1":208,"p2":222,"h1":34,"h2":30},{"h":40,"p1":230,"p2":241,"h1":28,"h2":26}]},
"encoding":{"x":{"field":"h","type":"quantitative","scale":{"domain":[0,55],"range":[79,24]},"axis":null}},
"layer":[
{"mark":{"type":"rule","color":"#111","strokeWidth":1},"encoding":{"y":{"field":"p1","type":"quantitative","scale":{"domain":[0,244],"range":[81,325]},"axis":null},"y2":{"field":"p2"}}},
{"mark":{"type":"rule","color":"#111","strokeWidth":1},"encoding":{"y":{"field":"p1","type":"quantitative","scale":{"domain":[0,244],"range":[81,325]},"axis":null},"x2":{"field":"h1"}}},
{"mark":{"type":"rule","color":"#111","strokeWidth":1},"encoding":{"y":{"field":"p2","type":"quantitative","scale":{"domain":[0,244],"range":[81,325]},"axis":null},"x2":{"field":"h2"}}}]},

{"data":{"values":[{"p":0,"h":21},{"p":3,"h":23},{"p":6,"h":21},{"p":9,"h":22},{"p":12,"h":20},{"p":15,"h":21},{"p":18,"h":17},{"p":21,"h":19},{"p":24,"h":9},{"p":26,"h":20},{"p":29,"h":23},{"p":32,"h":25},{"p":35,"h":23},{"p":38,"h":25},{"p":41,"h":26},{"p":44,"h":22},{"p":47,"h":24},{"p":51,"h":19},{"p":55,"h":23},{"p":59,"h":18},{"p":63,"h":22},{"p":67,"h":17},{"p":71,"h":22},{"p":75,"h":15},{"p":79,"h":21},{"p":83,"h":14},{"p":87,"h":20},{"p":91,"h":15},{"p":95,"h":21},{"p":99,"h":13},{"p":103,"h":20},{"p":107,"h":14},{"p":111,"h":21},{"p":115,"h":13},{"p":119,"h":19},{"p":123,"h":12},{"p":127,"h":20},{"p":131,"h":23},{"p":135,"h":19},{"p":139,"h":22},{"p":143,"h":16},{"p":147,"h":21},{"p":151,"h":17},{"p":155,"h":22},{"p":159,"h":19},{"p":163,"h":23},{"p":167,"h":18},{"p":171,"h":22},{"p":175,"h":17},{"p":179,"h":23},{"p":183,"h":18},{"p":187,"h":22},{"p":191,"h":19},{"p":195,"h":23},{"p":199,"h":20},{"p":203,"h":24},{"p":207,"h":21},{"p":211,"h":25},{"p":215,"h":22},{"p":219,"h":25},{"p":223,"h":20},{"p":227,"h":24},{"p":231,"h":20},{"p":235,"h":24},{"p":239,"h":21},{"p":244,"h":24}]},
"mark":{"type":"area","orient":"horizontal","color":"#000"},"encoding":{"x":{"field":"h","type":"quantitative","stack":null,"scale":{"domain":[0,55],"range":[79,24]},"axis":null},"x2":{"datum":0},"y":{"field":"p","type":"quantitative","scale":{"domain":[0,244],"range":[81,325]},"axis":null}}},

{"data":{"values":[{"h":58.7,"p1":51,"p2":157,"h1":54.3,"h2":56},{"h":54.3,"p1":13,"p2":86,"h1":36,"h2":43},{"h":36,"p1":5,"p2":20,"h1":20,"h2":22},{"h":20,"p1":1,"p2":9,"h1":10,"h2":10},{"h":22,"p1":15,"p2":24,"h1":10,"h2":9},{"h":43,"p1":58,"p2":115,"h1":29,"h2":36},{"h":29,"p1":37,"p2":72,"h1":25,"h2":22},{"h":25,"p1":31,"p2":44,"h1":12,"h2":10},{"h":22,"p1":58,"p2":84,"h1":12,"h2":10},{"h":36,"p1":98,"p2":132,"h1":24,"h2":30},{"h":24,"p1":92,"p2":108,"h1":10,"h2":9},{"h":30,"p1":125,"p2":138,"h1":14,"h2":12},{"h":56,"p1":145,"p2":172,"h1":40,"h2":53},{"h":40,"p1":141,"p2":150,"h1":20,"h2":18},{"h":53,"p1":160,"p2":205,"h1":46,"h2":45},{"h":46,"p1":158,"p2":186,"h1":24,"h2":30},{"h":24,"p1":152,"p2":165,"h1":8,"h2":8},{"h":30,"p1":178,"p2":192,"h1":12,"h2":10},{"h":45,"p1":195,"p2":232,"h1":28,"h2":30},{"h":28,"p1":190,"p2":210,"h1":14,"h2":12},{"h":30,"p1":220,"p2":242,"h1":16,"h2":14}]},
"encoding":{"x":{"field":"h","type":"quantitative","scale":{"domain":[0,58.7],"range":[428,369.3]},"axis":null}},
"layer":[
{"mark":{"type":"rule","color":"#111","strokeWidth":1},"encoding":{"y":{"field":"p1","type":"quantitative","scale":{"domain":[0,245],"range":[82,327]},"axis":null},"y2":{"field":"p2"}}},
{"mark":{"type":"rule","color":"#111","strokeWidth":1},"encoding":{"y":{"field":"p1","type":"quantitative","scale":{"domain":[0,245],"range":[82,327]},"axis":null},"x2":{"field":"h1"}}},
{"mark":{"type":"rule","color":"#111","strokeWidth":1},"encoding":{"y":{"field":"p2","type":"quantitative","scale":{"domain":[0,245],"range":[82,327]},"axis":null},"x2":{"field":"h2"}}}]},

{"data":{"values":[{"p":0,"h":11},{"p":4,"h":13},{"p":8,"h":9},{"p":12,"h":12},{"p":16,"h":8},{"p":20,"h":11},{"p":24,"h":8},{"p":28,"h":6},{"p":33,"h":8},{"p":38,"h":4},{"p":43,"h":7},{"p":48,"h":4},{"p":53,"h":7},{"p":58,"h":4},{"p":63,"h":7},{"p":68,"h":3},{"p":73,"h":6},{"p":78,"h":4},{"p":83,"h":8},{"p":88,"h":5},{"p":93,"h":8},{"p":98,"h":4},{"p":103,"h":7},{"p":108,"h":4},{"p":113,"h":7},{"p":118,"h":3},{"p":123,"h":7},{"p":128,"h":10},{"p":133,"h":6},{"p":138,"h":10},{"p":141,"h":14},{"p":143,"h":38},{"p":145,"h":18},{"p":147,"h":30},{"p":149,"h":20},{"p":151,"h":26},{"p":153,"h":14},{"p":155,"h":18},{"p":158,"h":9},{"p":163,"h":6},{"p":168,"h":9},{"p":173,"h":5},{"p":178,"h":8},{"p":183,"h":5},{"p":188,"h":8},{"p":193,"h":4},{"p":198,"h":7},{"p":203,"h":4},{"p":208,"h":8},{"p":213,"h":4},{"p":218,"h":7},{"p":223,"h":5},{"p":228,"h":8},{"p":233,"h":6},{"p":238,"h":10},{"p":242,"h":19},{"p":245,"h":15}]},
"mark":{"type":"area","orient":"horizontal","color":"#000"},"encoding":{"x":{"field":"h","type":"quantitative","stack":null,"scale":{"domain":[0,58.7],"range":[428,369.3]},"axis":null},"x2":{"datum":0},"y":{"field":"p","type":"quantitative","scale":{"domain":[0,245],"range":[82,327]},"axis":null}}},

{"data":{"values":[{"x0":-91.4,"x1":91.9,"y0":-103.9,"y1":48.3},{"x0":60.7,"x1":91.9,"y0":-103.9,"y1":-34.5}]},"mark":{"type":"rect","fillOpacity":0,"stroke":"#222","strokeWidth":1.2},"encoding":{"x":{"field":"x0","type":"quantitative","scale":{"domain":[-91.4,91.9],"range":[47.7,333.7]},"axis":null},"x2":{"field":"x1"},"y":{"field":"y0","type":"quantitative","scale":{"domain":[-103.9,48.3],"range":[724,474]},"axis":null},"y2":{"field":"y1"}}},

{"data":{"values":[{"pc1":-54,"pc2":43,"age":"old","tissue":"cardiac"},{"pc1":-84.6,"pc2":33,"age":"young","tissue":"cardiac"},{"pc1":-82,"pc2":27.2,"age":"young","tissue":"cardiac"},{"pc1":-71.8,"pc2":-97.8,"age":"old","tissue":"cardiac"},{"pc1":78,"pc2":24.8,"age":"old","tissue":"skeletal"},{"pc1":85.3,"pc2":-1.6,"age":"young","tissue":"skeletal"},{"pc1":84.4,"pc2":-7.5,"age":"young","tissue":"skeletal"},{"pc1":44.9,"pc2":-19.4,"age":"old","tissue":"skeletal"}]},
"encoding":{
"x":{"field":"pc1","type":"quantitative","scale":{"domain":[-91.4,91.9],"range":[47.7,333.7]},"axis":{"orient":"bottom","offset":-412,"values":[-50,0,50],"title":"PC1 (explained variance:0.51)","titleFontSize":10.5,"titleFontWeight":"normal","titleColor":"#333","labelFontSize":10,"labelColor":"#333","tickSize":6,"tickColor":"#333","domain":false,"titlePadding":5,"labelPadding":8}},
"y":{"field":"pc2","type":"quantitative","scale":{"domain":[-103.9,48.3],"range":[724,474]},"axis":{"orient":"left","offset":-47.7,"values":[-100,-80,-60,-40,-20,0,20,40],"title":"PC2 (explained variance:0.16)","titleFontSize":10.5,"titleFontWeight":"normal","titleColor":"#333","titleY":590,"labelFontSize":10,"labelColor":"#333","labelAngle":-90,"labelAlign":"center","labelBaseline":"bottom","tickSize":6,"tickColor":"#333","domain":false,"titlePadding":13,"labelPadding":5}},
"color":{"field":"age","type":"nominal","scale":{"domain":["young","old"],"range":["#E5262B","#6BB536"]},"legend":null}},
"layer":[
{"transform":[{"filter":"datum.tissue==='cardiac'"}],"mark":{"type":"point","shape":"triangle-up","filled":false,"size":42,"strokeWidth":1.3,"opacity":1}},
{"transform":[{"filter":"datum.tissue==='skeletal'"}],"mark":{"type":"point","shape":"square","filled":true,"size":28,"opacity":1}}]},

{"data":{"values":[{"label":"young","key":"young","lines":1},{"label":"old","key":"old","lines":1},{"label":"cardiac muslce","key":"cardiac","lines":2},{"label":"skeletal muscle","key":"skeletal","lines":2}]},
"encoding":{"y":{"field":"label","type":"nominal","scale":{"type":"point","domain":["young","old","cardiac muslce","skeletal muscle"],"range":[633.7,701],"padding":0},"axis":null}},
"layer":[
{"transform":[{"filter":"datum.key!=='cardiac'"}],"mark":{"type":"point","filled":true,"opacity":1},"encoding":{"x":{"datum":64,"type":"quantitative","scale":{"domain":[-91.4,91.9],"range":[47.7,333.7]},"axis":null},"shape":{"field":"key","type":"nominal","scale":{"domain":["young","old","skeletal"],"range":["circle","circle","square"]},"legend":null},"color":{"field":"key","type":"nominal","scale":{"domain":["young","old","skeletal"],"range":["#E5262B","#6BB536","#000000"]},"legend":null},"size":{"field":"key","type":"nominal","scale":{"domain":["young","old","skeletal"],"range":[14,14,20]},"legend":null}}},
{"transform":[{"filter":"datum.key==='cardiac'"}],"mark":{"type":"point","shape":"triangle-up","filled":false,"size":34,"color":"#000","strokeWidth":1.2,"opacity":1},"encoding":{"x":{"datum":64,"type":"quantitative","scale":{"domain":[-91.4,91.9],"range":[47.7,333.7]},"axis":null}}},
{"transform":[{"filter":"datum.lines===1"}],"mark":{"type":"text","align":"left","baseline":"middle","fontSize":10,"color":"#333"},"encoding":{"x":{"datum":67.8,"type":"quantitative","scale":{"domain":[-91.4,91.9],"range":[47.7,333.7]},"axis":null},"text":{"field":"label"}}},
{"transform":[{"filter":"datum.lines===2"}],"mark":{"type":"text","align":"left","baseline":"middle","fontSize":10,"color":"#333","lineBreak":" ","lineHeight":12,"dy":-6},"encoding":{"x":{"datum":67.8,"type":"quantitative","scale":{"domain":[-91.4,91.9],"range":[47.7,333.7]},"axis":null},"text":{"field":"label"}}}]},

{"data":{"values":[
{"r":"YSM-1","c":"OCM-1","v":0.57},{"r":"YSM-1","c":"OCM-2","v":0.64},{"r":"YSM-1","c":"YCM-2","v":0.51},{"r":"YSM-1","c":"YCM-1","v":0.52},{"r":"YSM-1","c":"OSM-1","v":0.82},{"r":"YSM-1","c":"OSM-2","v":0.9},{"r":"YSM-1","c":"YSM-2","v":0.985},{"r":"YSM-1","c":"YSM-1","v":1},
{"r":"YSM-2","c":"OCM-1","v":0.57},{"r":"YSM-2","c":"OCM-2","v":0.645},{"r":"YSM-2","c":"YCM-2","v":0.53},{"r":"YSM-2","c":"YCM-1","v":0.54},{"r":"YSM-2","c":"OSM-1","v":0.81},{"r":"YSM-2","c":"OSM-2","v":0.9},{"r":"YSM-2","c":"YSM-2","v":1},{"r":"YSM-2","c":"YSM-1","v":0.98},
{"r":"OSM-2","c":"OCM-1","v":0.56},{"r":"OSM-2","c":"OCM-2","v":0.67},{"r":"OSM-2","c":"YCM-2","v":0.54},{"r":"OSM-2","c":"YCM-1","v":0.56},{"r":"OSM-2","c":"OSM-1","v":0.81},{"r":"OSM-2","c":"OSM-2","v":1},{"r":"OSM-2","c":"YSM-2","v":0.91},{"r":"OSM-2","c":"YSM-1","v":0.9},
{"r":"OSM-1","c":"OCM-1","v":0.69},{"r":"OSM-1","c":"OCM-2","v":0.7},{"r":"OSM-1","c":"YCM-2","v":0.645},{"r":"OSM-1","c":"YCM-1","v":0.665},{"r":"OSM-1","c":"OSM-1","v":1},{"r":"OSM-1","c":"OSM-2","v":0.83},{"r":"OSM-1","c":"YSM-2","v":0.81},{"r":"OSM-1","c":"YSM-1","v":0.8},
{"r":"YCM-1","c":"OCM-1","v":0.82},{"r":"YCM-1","c":"OCM-2","v":0.87},{"r":"YCM-1","c":"YCM-2","v":0.98},{"r":"YCM-1","c":"YCM-1","v":1},{"r":"YCM-1","c":"OSM-1","v":0.67},{"r":"YCM-1","c":"OSM-2","v":0.55},{"r":"YCM-1","c":"YSM-2","v":0.54},{"r":"YCM-1","c":"YSM-1","v":0.53},
{"r":"YCM-2","c":"OCM-1","v":0.81},{"r":"YCM-2","c":"OCM-2","v":0.87},{"r":"YCM-2","c":"YCM-2","v":1},{"r":"YCM-2","c":"YCM-1","v":0.98},{"r":"YCM-2","c":"OSM-1","v":0.645},{"r":"YCM-2","c":"OSM-2","v":0.53},{"r":"YCM-2","c":"YSM-2","v":0.52},{"r":"YCM-2","c":"YSM-1","v":0.52},
{"r":"OCM-2","c":"OCM-1","v":0.81},{"r":"OCM-2","c":"OCM-2","v":1},{"r":"OCM-2","c":"YCM-2","v":0.89},{"r":"OCM-2","c":"YCM-1","v":0.87},{"r":"OCM-2","c":"OSM-1","v":0.7},{"r":"OCM-2","c":"OSM-2","v":0.67},{"r":"OCM-2","c":"YSM-2","v":0.645},{"r":"OCM-2","c":"YSM-1","v":0.64},
{"r":"OCM-1","c":"OCM-1","v":1},{"r":"OCM-1","c":"OCM-2","v":0.8},{"r":"OCM-1","c":"YCM-2","v":0.8},{"r":"OCM-1","c":"YCM-1","v":0.81},{"r":"OCM-1","c":"OSM-1","v":0.69},{"r":"OCM-1","c":"OSM-2","v":0.56},{"r":"OCM-1","c":"YSM-2","v":0.56},{"r":"OCM-1","c":"YSM-1","v":0.56}]},
"mark":"rect","encoding":{"x":{"field":"c","type":"nominal","scale":{"type":"band","domain":["OCM-1","OCM-2","YCM-2","YCM-1","OSM-1","OSM-2","YSM-2","YSM-1"],"range":[508,680],"padding":0},"axis":{"orient":"bottom","offset":-412,"labelAngle":-90,"labelAlign":"right","labelBaseline":"middle","labelFontSize":11,"labelColor":"#222","labelPadding":6,"domain":false,"ticks":false,"title":null}},"y":{"field":"r","type":"nominal","scale":{"type":"band","domain":["YSM-1","YSM-2","OSM-2","OSM-1","YCM-1","YCM-2","OCM-2","OCM-1"],"range":[553,724],"padding":0},"axis":{"orient":"right","offset":-41,"labelFontSize":11,"labelColor":"#222","labelPadding":3,"domain":false,"ticks":false,"title":null}},"color":{"field":"v","type":"quantitative","scale":{"domain":[0.49,0.58,0.66,0.72,0.78,0.88,1],"range":["#72BD2C","#3FAE3A","#14803A","#000000","#5A0F12","#A01F24","#EA231C"]},"legend":null}}},

{"data":{"values":[{"v":0.49,"v2":0.51},{"v":0.51,"v2":0.53},{"v":0.53,"v2":0.55},{"v":0.55,"v2":0.57},{"v":0.57,"v2":0.59},{"v":0.59,"v2":0.61},{"v":0.61,"v2":0.63},{"v":0.63,"v2":0.65},{"v":0.65,"v2":0.67},{"v":0.67,"v2":0.69},{"v":0.69,"v2":0.71},{"v":0.71,"v2":0.73},{"v":0.73,"v2":0.75},{"v":0.75,"v2":0.77},{"v":0.77,"v2":0.79},{"v":0.79,"v2":0.81},{"v":0.81,"v2":0.83},{"v":0.83,"v2":0.85},{"v":0.85,"v2":0.87},{"v":0.87,"v2":0.89},{"v":0.89,"v2":0.91},{"v":0.91,"v2":0.93},{"v":0.93,"v2":0.95},{"v":0.95,"v2":0.97},{"v":0.97,"v2":0.99},{"v":0.99,"v2":1}]},
"mark":{"type":"rect","strokeWidth":0.6},"encoding":{"x":{"field":"v","type":"quantitative","scale":{"domain":[0.49,1],"range":[425,477]},"axis":{"orient":"bottom","offset":-645,"values":[0.5,0.6,0.7,0.8,0.9,1],"format":".1f","labelExpr":"indexof(['0.5','0.7','0.9'],datum.label)>=0?datum.label:''","labelFontSize":7,"labelColor":"#333","labelOverlap":false,"labelFlush":false,"tickSize":4,"tickColor":"#333","domain":false,"title":"Value","titleFontSize":8,"titleFontWeight":"normal","titleColor":"#333","titlePadding":0,"labelPadding":3}},"x2":{"field":"v2"},"y":{"datum":"key","type":"nominal","scale":{"type":"band","domain":["key"],"range":[454,491],"padding":0},"axis":null},"color":{"field":"v","type":"quantitative","scale":{"domain":[0.49,0.58,0.66,0.72,0.78,0.88,1],"range":["#72BD2C","#3FAE3A","#14803A","#000000","#5A0F12","#A01F24","#EA231C"]},"legend":null},"stroke":{"field":"v","type":"quantitative","scale":{"domain":[0.49,0.58,0.66,0.72,0.78,0.88,1],"range":["#72BD2C","#3FAE3A","#14803A","#000000","#5A0F12","#A01F24","#EA231C"]},"legend":null}}},

{"data":{"values":[{"grp":"purple","a":4,"b":6,"lane":0},{"grp":"cyan","a":6,"b":8,"lane":1},{"grp":"green","a":0,"b":2,"lane":2},{"grp":"red","a":2,"b":4,"lane":3}]},"mark":"rect","encoding":{"x":{"field":"a","type":"quantitative","scale":{"domain":[0,8],"range":[508,680]},"axis":null},"x2":{"field":"b"},"y":{"field":"lane","type":"ordinal","scale":{"type":"band","range":[528.7,549.5],"padding":0},"axis":null},"color":{"field":"grp","type":"nominal","scale":{"domain":["purple","cyan","green","red"],"range":["#5B3E9E","#72C4D6","#93C528","#E3242B"]},"legend":null}}},
{"data":{"values":[{"grp":"red","a":4,"b":6,"lane":0},{"grp":"green","a":6,"b":8,"lane":1},{"grp":"cyan","a":0,"b":2,"lane":2},{"grp":"purple","a":2,"b":4,"lane":3}]},"mark":"rect","encoding":{"y":{"field":"a","type":"quantitative","scale":{"domain":[0,8],"range":[553,724]},"axis":null},"y2":{"field":"b"},"x":{"field":"lane","type":"ordinal","scale":{"type":"band","range":[484.3,505.3],"padding":0},"axis":null},"color":{"field":"grp","type":"nominal","scale":{"domain":["purple","cyan","green","red"],"range":["#5B3E9E","#72C4D6","#93C528","#E3242B"]},"legend":null}}},

{"data":{"values":[{"set":"CM","cx":-0.3075},{"set":"SM","cx":0.3075}]},"mark":{"type":"point","filled":true,"shape":"circle","size":57121,"fillOpacity":0.5,"opacity":1,"strokeOpacity":1,"strokeWidth":1.2},"encoding":{"x":{"field":"cx","type":"quantitative","scale":{"domain":[-2,2],"range":[-53.25,424.75]},"axis":null},"y":{"datum":0,"type":"quantitative","scale":{"domain":[-1,1],"range":[1112,874]},"axis":null},"color":{"field":"set","type":"nominal","scale":{"domain":["CM","SM"],"range":["#FF0000","#00FF00"]},"legend":null},"stroke":{"field":"set","type":"nominal","scale":{"domain":["CM","SM"],"range":["#E0101C","#20E030"]},"legend":null}}},
{"data":{"values":[{"set":"CM","cx":-0.3075}]},"mark":{"type":"point","filled":false,"shape":"circle","size":57121,"opacity":0.75,"color":"#C8141C","strokeWidth":1.2},"encoding":{"x":{"field":"cx","type":"quantitative","scale":{"domain":[-2,2],"range":[-53.25,424.75]},"axis":null},"y":{"datum":0,"type":"quantitative","scale":{"domain":[-1,1],"range":[1112,874]},"axis":null}}},
{"data":{"values":[{"t":"994 (4.9%)","cx":-0.944},{"t":"18459 (90.8%)","cx":0.052},{"t":"886 (4.4%)","cx":0.998}]},"mark":{"type":"text","fontSize":13,"color":"#111","lineBreak":" ","lineHeight":20,"align":"center","baseline":"middle"},"encoding":{"x":{"field":"cx","type":"quantitative","scale":{"domain":[-2,2],"range":[-53.25,424.75]},"axis":null},"y":{"datum":0.042,"type":"quantitative","scale":{"domain":[-1,1],"range":[1112,874]},"axis":null},"text":{"field":"t"}}},
{"data":{"values":[{"t":"CM","cx":-0.333,"cy":-1.118},{"t":"SM","cx":0.429,"cy":-1.118},{"t":"mRNA","cx":0.019,"cy":1.185}]},"mark":{"type":"text","fontSize":15,"color":"#111","align":"center","baseline":"middle"},"encoding":{"x":{"field":"cx","type":"quantitative","scale":{"domain":[-2,2],"range":[-53.25,424.75]},"axis":null},"y":{"field":"cy","type":"quantitative","scale":{"domain":[-1,1],"range":[1112,874]},"axis":null},"text":{"field":"t"}}},

{"data":{"values":[{"group":"novel miRNA","count":735,"share":49,"rank":1},{"group":"known miRNA","count":665,"share":51,"rank":2}]},"mark":{"type":"arc","radius":122,"stroke":"white","strokeWidth":2},"encoding":{"x":{"datum":0,"type":"quantitative","scale":{"domain":[-1,1],"range":[425.3,669.3]},"axis":null},"y":{"datum":0,"type":"quantitative","scale":{"domain":[-1,1],"range":[1113.8,869.5]},"axis":null},"theta":{"field":"share","type":"quantitative","stack":true},"order":{"field":"rank"},"color":{"field":"group","type":"nominal","scale":{"domain":["known miRNA","novel miRNA"],"range":["#E07A30","#5B92C9"]},"legend":{"orient":"none","legendX":416,"legendY":1118,"direction":"horizontal","title":null,"symbolType":"square","symbolSize":40,"symbolStrokeWidth":0,"labelFontSize":17.5,"labelColor":"#222","columnPadding":20,"padding":0,"labelOffset":2}}}},
{"data":{"values":[{"t":"665","cx":-0.453},{"t":"735","cx":0.452}]},"mark":{"type":"text","fontSize":22,"color":"#222","align":"center","baseline":"middle"},"encoding":{"x":{"field":"cx","type":"quantitative","scale":{"domain":[-1,1],"range":[425.3,669.3]},"axis":null},"y":{"datum":-0.02,"type":"quantitative","scale":{"domain":[-1,1],"range":[1113.8,869.5]},"axis":null},"text":{"field":"t"}}},

{"data":{"values":[{"t":"A","fx":0.018,"fy":0.0097},{"t":"B","fx":0.0208,"fy":0.3668},{"t":"C","fx":0.502,"fy":0.3644},{"t":"D","fx":0.0208,"fy":0.7192},{"t":"E","fx":0.502,"fy":0.7192}]},"mark":{"type":"text","fontSize":16,"color":"#222","align":"center","baseline":"middle"},"encoding":{"x":{"field":"fx","type":"quantitative","scale":{"domain":[0,1],"range":[0,721]},"axis":null},"y":{"field":"fy","type":"quantitative","scale":{"domain":[0,1],"range":[0,1136]},"axis":null},"text":{"field":"t"}}},
{"data":{"values":[{"t":"mRNA&lncRNA","fx":0.2351,"fy":0.0358},{"t":"miRNA","fx":0.7448,"fy":0.0367}]},"mark":{"type":"text","fontSize":15,"color":"#333","align":"center","baseline":"middle"},"encoding":{"x":{"field":"fx","type":"quantitative","scale":{"domain":[0,1],"range":[0,721]},"axis":null},"y":{"field":"fy","type":"quantitative","scale":{"domain":[0,1],"range":[0,1136]},"axis":null},"text":{"field":"t"}}},
{"data":{"values":[{"t":"Color Key","fx":0.6255,"fy":0.3935}]},"mark":{"type":"text","fontSize":7.5,"fontWeight":"bold","color":"#333","align":"center","baseline":"middle"},"encoding":{"x":{"field":"fx","type":"quantitative","scale":{"domain":[0,1],"range":[0,721]},"axis":null},"y":{"field":"fy","type":"quantitative","scale":{"domain":[0,1],"range":[0,1136]},"axis":null},"text":{"field":"t"}}}
]}
